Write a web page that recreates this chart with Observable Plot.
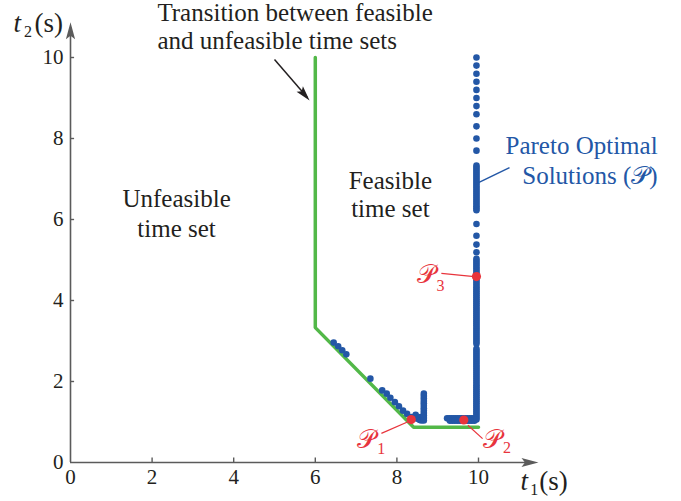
<!DOCTYPE html>
<html><head><meta charset="utf-8">
<script src="https://cdn.jsdelivr.net/npm/d3@7"></script>
<script src="https://cdn.jsdelivr.net/npm/@observablehq/plot@0.6"></script>
<style>body{margin:0;background:#fff}</style>
</head><body><div id="chart"></div>
<script>
// ---- data ----
const xTicks = [0, 2, 4, 6, 8, 10];
const yTicks = [0, 2, 4, 6, 8, 10];

// boundary between feasible and unfeasible time sets
const boundaryT1 = [6, 6, 8.41, 10];
const boundaryT2 = [10, 3.33, 0.87, 0.87];

// Pareto optimal solutions (lower-left part)
const frontT1 = [6.45, 6.56, 6.66, 6.76, 7.35,
  7.64, 7.75, 7.84, 7.95, 8.05, 8.15, 8.25, 8.36, 8.46, 8.50, 8.56, 8.58, 8.60,
  8.66, 8.66, 8.66, 8.66, 8.66, 8.66, 8.66, 8.66, 8.66, 8.66, 8.66, 8.66,
  9.23, 9.28, 9.33, 9.38, 9.43, 9.48, 9.53, 9.58, 9.63, 9.68, 9.73, 9.78, 9.83, 9.88,
  9.30, 9.36, 9.42, 9.48, 9.54, 9.60, 9.66, 9.72, 9.78, 9.84, 9.90];
const frontT2 = [2.96, 2.87, 2.77, 2.67, 2.07,
  1.78, 1.70, 1.60, 1.49, 1.39, 1.28, 1.20, 1.12, 1.18, 1.08, 1.05, 1.12, 1.04,
  1.70, 1.64, 1.58, 1.52, 1.46, 1.40, 1.34, 1.28, 1.22, 1.16, 1.10, 1.04,
  1.09, 1.09, 1.09, 1.09, 1.09, 1.09, 1.09, 1.09, 1.09, 1.09, 1.09, 1.09, 1.09, 1.09,
  1.03, 1.03, 1.03, 1.03, 1.03, 1.03, 1.03, 1.03, 1.03, 1.03, 1.03];

// Pareto optimal solutions on the t1 ≈ 10 column
const columnT1 = 9.95;
const columnT2 = [10.0, 9.80, 9.60, 9.40, 9.20, 9.00, 8.80, 8.60, 8.30, 8.00, 7.70,
  7.33, 7.28, 7.23, 7.18, 7.13, 7.08, 7.03, 6.98, 6.93, 6.88, 6.83, 6.78, 6.73, 6.68,
  6.63, 6.58, 6.53, 6.48, 6.43, 6.38, 6.33, 6.28, 6.23,
  5.89, 5.60, 5.38, 5.19,
  5.03, 4.98, 4.93, 4.88, 4.83, 4.78, 4.73, 4.68, 4.63, 4.58, 4.53, 4.48, 4.43, 4.38,
  4.33, 4.28, 4.23, 4.18, 4.13, 4.08, 4.03, 3.98, 3.93, 3.88, 3.83, 3.78, 3.73, 3.68,
  3.63, 3.58, 3.53, 3.48, 3.43, 3.38, 3.33, 3.28, 3.23, 3.18, 3.13, 3.08, 3.03, 2.98, 2.93,
  2.81, 2.76, 2.71, 2.66, 2.61, 2.56, 2.51, 2.46, 2.41, 2.36, 2.31, 2.26, 2.21, 2.16,
  2.11, 2.06, 2.01, 1.96, 1.91, 1.86, 1.81, 1.76, 1.71, 1.66, 1.61, 1.56, 1.51, 1.46,
  1.41, 1.36, 1.31, 1.26, 1.21, 1.16, 1.11, 1.06];

// highlighted solutions P1, P2, P3
const selectedNames = ["1", "2", "3"];
const selectedT1 = [8.35, 9.64, 9.95];
const selectedT2 = [1.06, 1.05, 4.59];

// ---- tables ----
const boundary = boundaryT1.map((t1, i) => ({t1, t2: boundaryT2[i]}));
const pareto = frontT1.map((t1, i) => ({t1, t2: frontT2[i]}))
  .concat(columnT2.map(t2 => ({t1: columnT1, t2})));
const selected = selectedNames.map((name, i) => ({name, t1: selectedT1[i], t2: selectedT2[i]}));

// ---- styles ----
const blue = "#2357a6", red = "#e8343c", green = "#52b848", axisColor = "#5b5b5b", ink = "#231f20";
const serif = "'Liberation Serif','Times New Roman',serif";
const scriptFont = "'Liberation Serif','DejaVu Serif','DejaVu Sans',serif";

const axisHead = {draw(ctx) { ctx.moveTo(0, 0); ctx.lineTo(4.6, 17); ctx.lineTo(0, 13.5); ctx.lineTo(-4.6, 17); ctx.closePath(); }};
const noteHead = {draw(ctx) { ctx.moveTo(0, 0); ctx.lineTo(4.2, 15); ctx.lineTo(0, 12); ctx.lineTo(-4.2, 15); ctx.closePath(); }};

// annotation layout (data units)
const pNotes = [
  {name: "1", x: 7.03, y: 0.37, sx: 7.52, sy: 0.2, lx1: 7.62, ly1: 0.72, lx2: 8.30, ly2: 1.02},
  {name: "2", x: 10.12, y: 0.37, sx: 10.6, sy: 0.23, lx1: 9.74, ly1: 0.92, lx2: 10.10, ly2: 0.59},
  {name: "3", x: 8.5, y: 4.44, sx: 8.97, sy: 4.23, lx1: 9.09, ly1: 4.67, lx2: 9.90, ly2: 4.59}
];

const chart = Plot.plot({
  width: 681,
  height: 501,
  marginLeft: 70,
  marginRight: 141.8,
  marginTop: 20.55,
  marginBottom: 39,
  x: {domain: [0, 11.5], axis: null},
  y: {domain: [0, 10.9], axis: null},
  style: {fontFamily: serif, fontSize: "21px", color: ink, background: "#fff", overflow: "visible"},
  marks: [
    // axes
    Plot.ruleY([0], {x1: 0, x2: 11.2, stroke: axisColor, strokeWidth: 1.6}),
    Plot.ruleX([0], {y1: 0, y2: 10.6, stroke: axisColor, strokeWidth: 1.6}),
    Plot.ruleX(xTicks.slice(1), {y1: 0, y2: 0.11, stroke: axisColor, strokeWidth: 1.4}),
    Plot.ruleY(yTicks.slice(1), {x1: 0, x2: 0.1, stroke: axisColor, strokeWidth: 1.4}),
    Plot.dot([{t1: 11.47, t2: 0}], {x: "t1", y: "t2", symbol: axisHead, rotate: 90, fill: axisColor, stroke: "none"}),
    Plot.dot([{t1: 0, t2: 10.87}], {x: "t1", y: "t2", symbol: axisHead, fill: axisColor, stroke: "none"}),
    Plot.axisX({ticks: xTicks, tickSize: 0, tickPadding: 7, fill: ink, fontSize: 21, fontFamily: serif}),
    Plot.axisY({ticks: yTicks, tickSize: 0, tickPadding: 7, fill: ink, fontSize: 21, fontFamily: serif}),
    // axis titles
    Plot.text(["t"], {x: 11.03, y: -0.69, text: d => d, fontStyle: "italic", fontSize: 27, textAnchor: "start", lineAnchor: "bottom", fill: ink}),
    Plot.text(["1"], {x: 11.27, y: -0.8, text: d => d, fontSize: 16, textAnchor: "start", lineAnchor: "bottom", fill: ink}),
    Plot.text(["(s)"], {x: 11.49, y: -0.69, text: d => d, fontSize: 27, textAnchor: "start", lineAnchor: "bottom", fill: ink}),
    Plot.text(["t"], {x: -1.4, y: 10.62, text: d => d, fontStyle: "italic", fontSize: 27, textAnchor: "start", lineAnchor: "bottom", fill: ink}),
    Plot.text(["2"], {x: -1.14, y: 10.51, text: d => d, fontSize: 16, textAnchor: "start", lineAnchor: "bottom", fill: ink}),
    Plot.text(["(s)"], {x: -0.88, y: 10.62, text: d => d, fontSize: 27, textAnchor: "start", lineAnchor: "bottom", fill: ink}),
    // boundary
    Plot.line(boundary, {x: "t1", y: "t2", stroke: green, strokeWidth: 3.5, strokeLinejoin: "miter"}),
    // pareto solutions
    Plot.dot(pareto, {x: "t1", y: "t2", r: 3.3, fill: blue, stroke: "none"}),
    // leader lines
    Plot.link(pNotes, {x1: "lx1", y1: "ly1", x2: "lx2", y2: "ly2", stroke: red, strokeWidth: 1.2}),
    Plot.dot(selected, {x: "t1", y: "t2", r: 4.6, fill: red, stroke: "none"}),
    Plot.text(pNotes, {x: "x", y: "y", text: d => "\u{1D4AB}", fontSize: 26, fontFamily: scriptFont, fill: red, textAnchor: "start", lineAnchor: "bottom"}),
    Plot.text(pNotes, {x: "sx", y: "sy", text: "name", fontSize: 16, fill: red, textAnchor: "start", lineAnchor: "bottom"}),
    // region labels
    Plot.text(["Unfeasible\ntime set"], {x: 2.6, y: 5.58, text: d => d, fontSize: 25, lineHeight: 1.17, textAnchor: "middle", lineAnchor: "bottom", fill: ink}),
    Plot.text(["Feasible\ntime set"], {x: 7.84, y: 6.06, text: d => d, fontSize: 25, lineHeight: 1.14, textAnchor: "middle", lineAnchor: "bottom", fill: ink}),
    Plot.text(["Transition between feasible\nand unfeasible time sets"], {x: 2.13, y: 10.22, text: d => d, fontSize: 25, lineHeight: 1.12, textAnchor: "start", lineAnchor: "bottom", fill: ink}),
    Plot.link([{a: 5.0, b: 9.95, c: 5.8, d: 9.02}], {x1: "a", y1: "b", x2: "c", y2: "d", stroke: ink, strokeWidth: 1.5}),
    Plot.dot([{t1: 5.86, t2: 8.94}], {x: "t1", y: "t2", symbol: noteHead, rotate: 139, fill: ink, stroke: "none"}),
    Plot.text(["Pareto Optimal\nSolutions (\u{1D4AB})"], {x: 14.39, y: 6.88, text: d => d, fontSize: 25, lineHeight: 1.2, textAnchor: "end", lineAnchor: "bottom", fill: blue, fontFamily: scriptFont}),
    Plot.link([{a: 10.0, b: 6.91, c: 10.76, d: 7.28}], {x1: "a", y1: "b", x2: "c", y2: "d", stroke: blue, strokeWidth: 1.5})
  ]
});
document.getElementById("chart").appendChild(chart);
</script>
</body></html>
